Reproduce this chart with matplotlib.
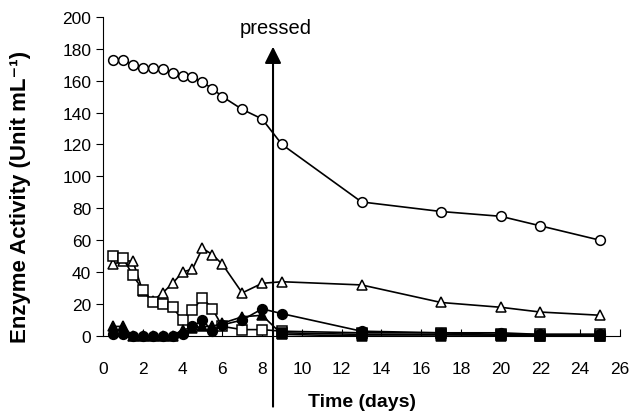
import matplotlib
matplotlib.use("Agg")
import matplotlib.pyplot as plt

plt.rcParams['font.family'] = ['Liberation Sans', 'DejaVu Sans']

# time points (days)
days = [0.5, 1, 1.5, 2, 2.5, 3, 3.5, 4, 4.5, 5, 5.5, 6, 7, 8, 9, 13, 17, 20, 22, 25]
days_late = [9, 13, 17, 20, 22, 25]

open_circle = [173, 173, 170, 168, 168, 167, 165, 163, 162, 159, 155, 150, 142, 136, 120,
               84, 78, 75, 69, 60]
open_triangle = [45, 47, 47, 28, 22, 27, 33, 40, 42, 55, 51, 45, 27, 33, 34,
                 32, 21, 18, 15, 13]
open_square = [50, 49, 38, 29, 21, 20, 18, 10, 16, 24, 17, 6, 4, 4, 3,
               2, 2, 1, 1, 1]
filled_circle = [1, 1, 0, 0, 0, 0, 0, 1, 6, 10, 3, 7, 10, 17, 14,
                 3, 2, 2, 1, 1]
filled_triangle = [6, 6, 0, 0, 0, 0, 0, 4, 5, 6, 6, 8, 12, 13, 1,
                   0, 0, 0, 0, 0]
filled_square = [2, 1, 1, 0.5, 0, 0]

pressed_day = 8.55
x_ticks = list(range(0, 27, 2))
y_ticks = list(range(0, 201, 20))

fig = plt.figure(figsize=(6.32, 4.14), dpi=100)
ax = fig.add_axes([0.163, 0.186, 0.818, 0.771])

style = dict(color='black', lw=1.2, markersize=7, markeredgewidth=1.1, clip_on=False)
ax.plot(days, open_circle, marker='o', markerfacecolor='white', **style)
ax.plot(days, open_triangle, marker='^', markerfacecolor='white', **style)
ax.plot(days, open_square, marker='s', markerfacecolor='white', **style)
ax.plot(days, filled_triangle, marker='^', markerfacecolor='black', **style)
ax.plot(days, filled_circle, marker='o', markerfacecolor='black', **style)
ax.plot(days_late, filled_square, marker='s', markerfacecolor='black', **style)

ax.set_xlim(0, 26)
ax.set_ylim(0, 200)
ax.set_xticks(x_ticks)
ax.set_yticks(y_ticks)
ax.spines['top'].set_visible(False)
ax.spines['right'].set_visible(False)
ax.tick_params(axis='x', direction='in', length=5, labelsize=12.5, pad=18)
ax.tick_params(axis='y', direction='out', length=5, labelsize=12.5)

ax.set_xlabel("Time (days)", fontsize=14, fontweight='bold', labelpad=12)
ax.set_ylabel("Enzyme Activity (Unit mL⁻¹)", fontsize=16, fontweight='bold')
ax.yaxis.set_label_coords(-0.14, 0.44)

# pressing event arrow
ax.annotate("", xy=(pressed_day, 183), xytext=(pressed_day, -46),
            arrowprops=dict(arrowstyle='-|>', mutation_scale=25, color='black', lw=1.5),
            annotation_clip=False)
ax.text(pressed_day + 0.15, 193, "pressed", ha='center', va='center', fontsize=14.5)

fig.savefig("out.png", dpi=100)
